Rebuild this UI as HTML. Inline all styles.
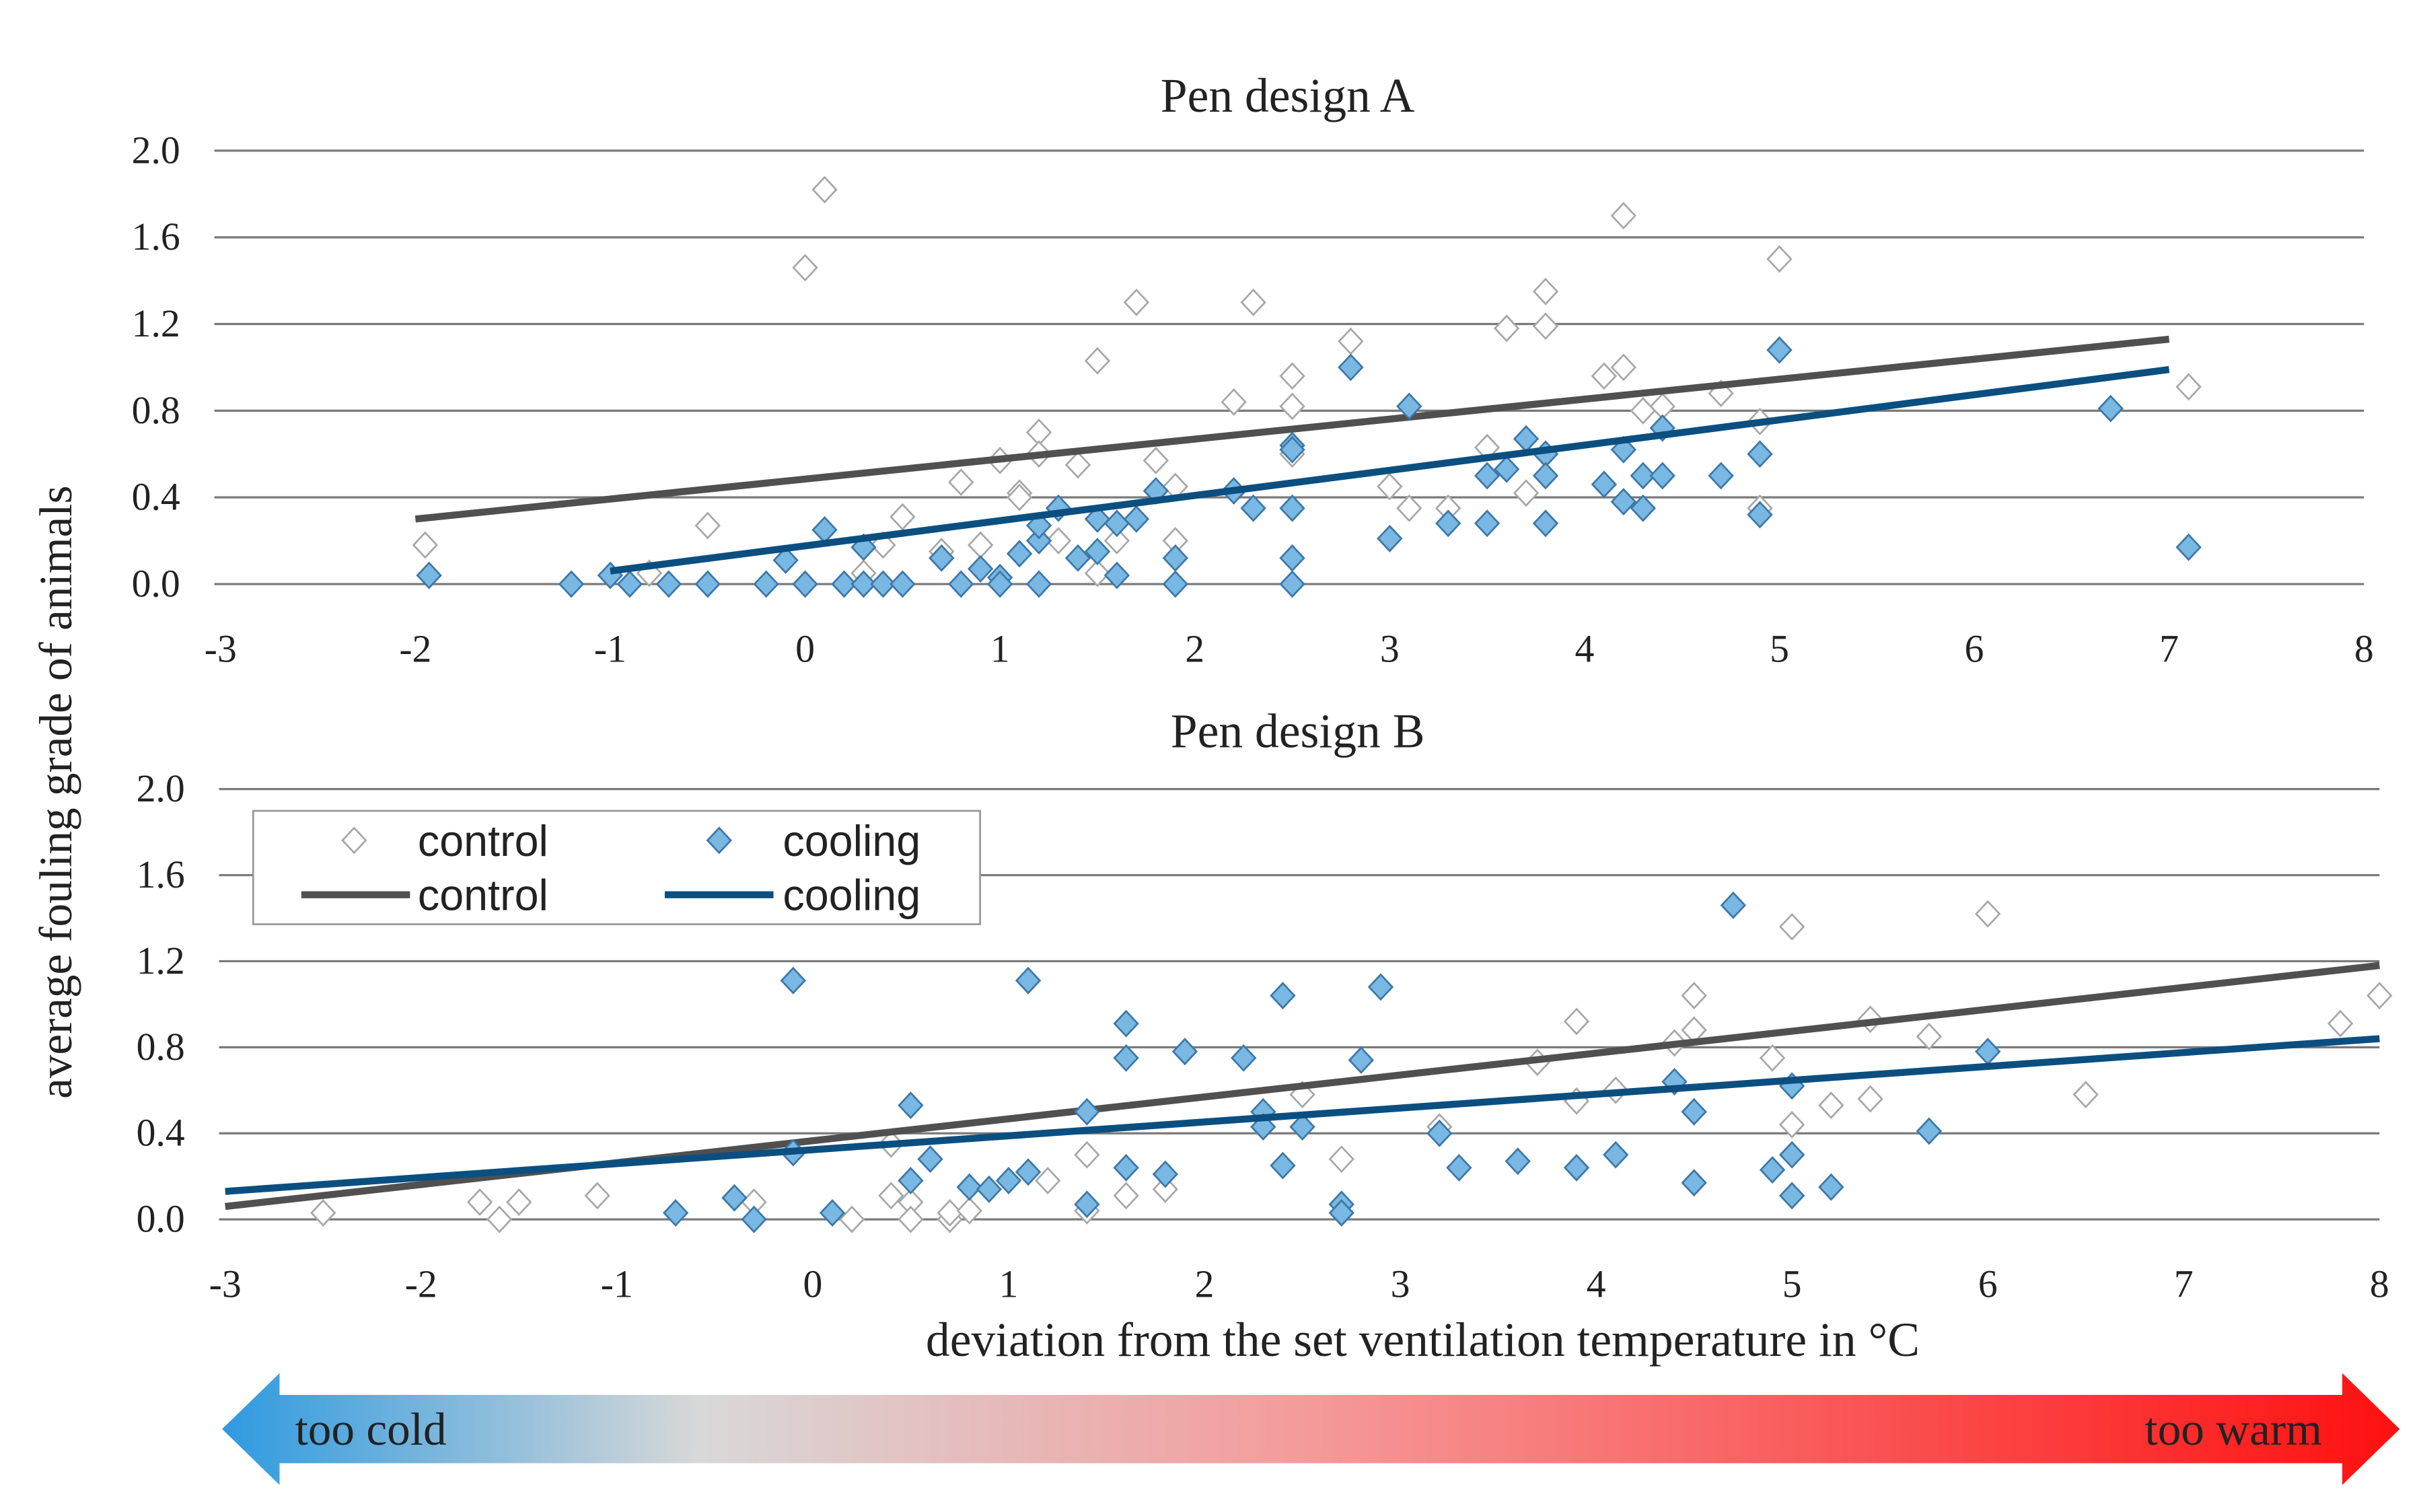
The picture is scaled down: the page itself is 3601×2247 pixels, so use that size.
<!DOCTYPE html>
<html><head><meta charset="utf-8"><style>
html,body{margin:0;padding:0;background:#fff}
svg{display:block}
text{font-family:"Liberation Serif",serif;fill:#222}
</style></head><body>
<svg id="c" width="3601" height="2247" viewBox="0 0 1560 973.4" preserveAspectRatio="none">
<defs>
<linearGradient id="g" x1="0" x2="1" y1="0" y2="0">
<stop offset="0" stop-color="#2e9ae0"/><stop offset="0.22" stop-color="#d8d8d8"/><stop offset="0.5" stop-color="#f59a9a"/><stop offset="1" stop-color="#ff1010"/>
</linearGradient>
</defs>
<g id="root"></g>
</svg>
<script>
const xTicks=[-3,-2,-1,0,1,2,3,4,5,6,7,8];
const yTicks=[0,0.4,0.8,1.2,1.6,2.0];
const ctrlAx=[-1.95,0,0.1,-0.5,0.5,0.8,1,1.1,1.2,1.2,1.4,1.5,1.7,1.8,1.9,2.2,2.3,2.5,2.5,2.5,2.8,3,3.1,3.3,3.5,3.6,3.8,3.8,3.7,4.1,4.2,4.2,4.3,4.4,4.7,4.9,4.9,5,7.1,0.3,0.4,0.9,1.1,1.3,1.6,1.9,1.5,-0.8,0.7];
const ctrlAy=[0.18,1.46,1.82,0.27,0.31,0.47,0.57,0.42,0.7,0.6,0.55,1.03,1.3,0.57,0.2,0.84,1.3,0.96,0.82,0.6,1.12,0.45,0.35,0.35,0.63,1.18,1.35,1.19,0.42,0.96,1.0,1.7,0.8,0.82,0.88,0.75,0.35,1.5,0.91,0.05,0.18,0.18,0.4,0.2,0.2,0.45,0.05,0.05,0.15];
const coolAx=[-1.93,-1.2,-1,-0.9,-0.7,-0.5,-0.2,-0.1,0,0.1,0.2,0.3,0.3,0.4,0.5,0.7,0.8,0.9,1,1,1.1,1.2,1.2,1.2,1.3,1.4,1.5,1.5,1.6,1.6,1.7,1.8,1.9,1.9,2.2,2.3,2.5,2.5,2.5,2.5,2.5,2.8,3,3.1,3.3,3.5,3.5,3.6,3.7,3.8,3.8,3.8,4.1,4.2,4.2,4.3,4.3,4.4,4.4,4.7,4.9,4.9,5,6.7,7.1];
const coolAy=[0.04,0,0.04,0,0,0,0,0.11,0,0.25,0,0.17,0,0,0,0.12,0,0.07,0.03,0,0.14,0.2,0.27,0,0.35,0.12,0.3,0.15,0.28,0.04,0.3,0.43,0.12,0,0.43,0.35,0.64,0.62,0.35,0.12,0,1.0,0.21,0.82,0.28,0.5,0.28,0.53,0.67,0.6,0.5,0.28,0.46,0.62,0.38,0.5,0.35,0.72,0.5,0.5,0.6,0.32,1.08,0.81,0.17];
const trendA={ctrl:[[-2,0.3],[7,1.13]],cool:[[-1,0.06],[7,0.99]]};
const ctrlBx=[-2.5,-1.7,-1.6,-1.5,-1.1,-0.3,0.2,0.4,0.4,0.5,0.5,0.7,0.7,0.8,1.2,1.4,1.4,1.6,1.8,2.5,2.7,3.2,3.7,3.9,3.9,4.1,4.4,4.5,4.5,4.9,5,5,5.2,5.4,5.4,5.7,6,6.5,7.8,8];
const ctrlBy=[0.03,0.08,0,0.08,0.11,0.08,0,0.11,0.35,0.08,0,0,0.03,0.04,0.18,0.3,0.04,0.11,0.14,0.58,0.28,0.43,0.73,0.92,0.55,0.6,0.82,0.88,1.04,0.75,1.36,0.44,0.53,0.93,0.56,0.85,1.42,0.58,0.91,1.04];
const coolBx=[-0.7,-0.4,-0.3,-0.1,-0.1,0.1,0.5,0.5,0.6,0.8,0.9,1,1.1,1.1,1.4,1.4,1.6,1.6,1.6,1.8,1.9,2.2,2.3,2.3,2.4,2.4,2.5,2.7,2.7,2.8,2.9,3.2,3.3,3.6,3.9,4.1,4.4,4.5,4.5,4.7,4.9,5,5,5,5.2,5.7,6];
const coolBy=[0.03,0.1,0,1.11,0.31,0.03,0.53,0.18,0.28,0.15,0.14,0.18,0.22,1.11,0.5,0.07,0.91,0.75,0.24,0.21,0.78,0.75,0.5,0.43,1.04,0.25,0.43,0.07,0.03,0.74,1.08,0.4,0.24,0.27,0.24,0.3,0.64,0.5,0.17,1.46,0.23,0.62,0.3,0.11,0.15,0.41,0.78];
const trendB={ctrl:[[-3,0.06],[8,1.18]],cool:[[-3,0.13],[8,0.84]]};

const NS="http://www.w3.org/2000/svg";
const root=document.getElementById('root');
function mk(tag,attrs,parent,txt){const e=document.createElementNS(NS,tag);for(const k in attrs)e.setAttribute(k,attrs[k]);if(txt!==undefined)e.textContent=txt;(parent||root).appendChild(e);return e;}
function panel(name,title,x0,x1,y0,y2,titleY,cx,cy,kx,ky,tr){
  const sx=v=>x0+(v+3)*(x1-x0)/11, sy=v=>y0-v*(y0-y2)/2;
  const g=mk('g',{});
  
  
  const t=mk('text',{x:(x0+x1)/2-3,y:titleY,'font-size':31,'text-anchor':'middle'},g,title);
  
  
  yTicks.forEach(v=>{
    const l=mk('line',{x1:x0-4,x2:x1,y1:sy(v),y2:sy(v),stroke:'#7a7a7a','stroke-width':1.4},g);
    
    
    const tl=mk('text',{x:x0-26,y:sy(v)+8,'font-size':25,'text-anchor':'end'},g,v.toFixed(1));
    
    
  });
  xTicks.forEach(v=>{
    const tl=mk('text',{x:sx(v),y:y0+50,'font-size':25,'text-anchor':'middle'},g,String(v));
    
    
  });
  const d=(x,y,fill,stroke,nm)=>{const X=sx(x),Y=sy(y);const p=mk('polygon',{points:`${X},${Y-8} ${X+7.5},${Y} ${X},${Y+8} ${X-7.5},${Y}`,fill,stroke,'stroke-width':1.2},g);
    
    };
  cx.forEach((x,i)=>d(x,cy[i],'#fff','#a8a8a8','control-point'));
  const tc=mk('line',{x1:sx(tr.ctrl[0][0]),y1:sy(tr.ctrl[0][1]),x2:sx(tr.ctrl[1][0]),y2:sy(tr.ctrl[1][1]),stroke:'#505050','stroke-width':4.5},g);
  
  
  kx.forEach((x,i)=>d(x,ky[i],'#7ab8e4','#3d78a8','cooling-point'));
  const tk=mk('line',{x1:sx(tr.cool[0][0]),y1:sy(tr.cool[0][1]),x2:sx(tr.cool[1][0]),y2:sy(tr.cool[1][1]),stroke:'#0b4f80','stroke-width':4.5},g);
  
  
}
panel('panel-a','Pen design A',142,1522,376,97,72,ctrlAx,ctrlAy,coolAx,coolAy,trendA);
panel('panel-b','Pen design B',145,1532,785,508,481,ctrlBx,ctrlBy,coolBx,coolBy,trendB);

const yt=mk('text',{x:0,y:0,'font-size':30,'text-anchor':'middle',transform:'translate(46,510) rotate(-90)'},root,'average fouling grade of animals');


const xt=mk('text',{x:916,y:873,'font-size':31,'text-anchor':'middle'},root,'deviation from the set ventilation temperature in °C');



const lg=mk('g',{});


mk('rect',{x:163,y:522,width:468,height:73,fill:'#fff',stroke:'#999','stroke-width':1.2},lg);
mk('polygon',{points:'228,533 235.5,541 228,549 220.5,541',fill:'#fff',stroke:'#a8a8a8','stroke-width':1.2},lg);
mk('polygon',{points:'463,533 470.5,541 463,549 455.5,541',fill:'#7ab8e4',stroke:'#3d78a8','stroke-width':1.2},lg);
mk('line',{x1:194,x2:264,y1:576,y2:576,stroke:'#505050','stroke-width':4.5},lg);
mk('line',{x1:428,x2:498,y1:576,y2:576,stroke:'#0b4f80','stroke-width':4.5},lg);
[['control',269,551],['cooling',504,551],['control',269,586],['cooling',504,586]].forEach(a=>{
  const t=mk('text',{x:a[1],y:a[2],'font-size':28,style:'font-family:"Liberation Sans",sans-serif'},lg,a[0]);
  
  
});

const ar=mk('polygon',{points:'143,920 180,884 180,898 1508,898 1508,884 1545,920 1508,956 1508,942 180,942 180,956',fill:'url(#g)'},root);


const tcd=mk('text',{x:190,y:930,'font-size':30},root,'too cold');


const tw=mk('text',{x:1495,y:930,'font-size':30,'text-anchor':'end'},root,'too warm');


</script>
</body></html>
